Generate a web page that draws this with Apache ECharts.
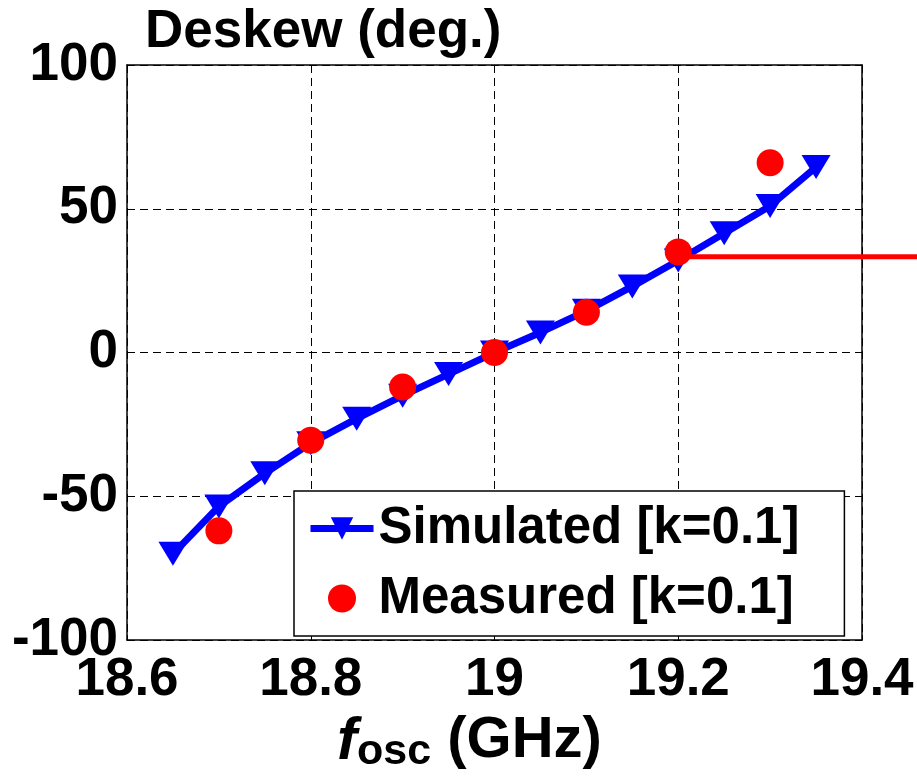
<!DOCTYPE html>
<html>
<head>
<meta charset="utf-8">
<script src="https://cdn.jsdelivr.net/npm/echarts@6/dist/echarts.min.js"></script>
<style>
  html, body { margin: 0; padding: 0; background: #fff; }
  #chart { width: 917px; height: 779px; }
</style>
</head>
<body>
<div id="chart"></div>
<script>
// frequency (GHz) / deskew (deg.)
const simFreq = [18.65, 18.7, 18.75, 18.8, 18.85, 18.9, 18.95, 19.0, 19.05, 19.1, 19.15, 19.2, 19.25, 19.3, 19.35]
const simDeskew = [-70, -53.5, -42, -31.5, -23, -15, -7.5, 0, 7, 14.5, 23, 32, 41.5, 51, 64.5]
const measFreq = [18.7, 18.8, 18.9, 19.0, 19.1, 19.2, 19.3]
const measDeskew = [-62, -30.5, -12, 0, 14, 35, 66]
// stray red trace running off the right edge of the figure
const strayFreq = [19.2, 19.46]
const strayDeskew = [33.8, 33.8]

const FONT = 'Liberation Sans'
const PLOT_LEFT = 127
const PLOT_RIGHT = 55
const X_MIN = 18.6
const X_MAX = 19.4
// second, invisible grid that reaches the right edge of the canvas, same px/GHz
const X_MAX_WIDE = X_MIN + (X_MAX - X_MIN) * (917 - PLOT_LEFT) / (917 - PLOT_LEFT - PLOT_RIGHT)

const pairs = (xs, ys) => xs.map((x, i) => [x, ys[i]])

const boxAxis = {
  axisLine: { show: true, onZero: false, lineStyle: { color: '#000', width: 1.5 } },
  axisTick: { show: true, inside: true, length: 5, lineStyle: { color: '#000', width: 1 } },
  axisLabel: { show: false },
  splitLine: { show: false },
}
const hidden = { show: false }

const option = {
  animation: false,
  backgroundColor: '#fff',
  title: {
    text: 'Deskew (deg.)',
    left: 145,
    top: 6,
    padding: 0,
    textStyle: { fontFamily: FONT, fontWeight: 'bold', fontSize: 53, color: '#000' },
  },
  grid: [
    { left: PLOT_LEFT, right: PLOT_RIGHT, top: 65, bottom: 135 },
    { left: PLOT_LEFT, right: 0, top: 65, bottom: 135 },
  ],
  legend: {
    left: 294,
    top: 491,
    orient: 'vertical',
    itemWidth: 63,
    itemHeight: 28,
    itemGap: 19,
    padding: [12, 45, 12, 13],
    borderColor: '#000',
    borderWidth: 1.5,
    borderRadius: 0,
    backgroundColor: '#fff',
    textStyle: { fontFamily: FONT, fontWeight: 'bold', fontSize: 51, lineHeight: 50, color: '#000' },
    data: [
      { name: 'Simulated [k=0.1]', lineStyle: { width: 7 } },
      { name: 'Measured [k=0.1]' },
    ],
  },
  xAxis: [
    {
      type: 'value',
      gridIndex: 0,
      min: X_MIN,
      max: X_MAX,
      interval: 0.2,
      axisLine: { show: true, onZero: false, lineStyle: { color: '#000', width: 1.5 } },
      axisTick: { show: true, inside: true, length: 5, lineStyle: { color: '#000' } },
      axisLabel: { fontFamily: FONT, fontWeight: 'bold', fontSize: 53, color: '#000', margin: 14 },
      splitLine: { show: true, lineStyle: { color: '#000', width: 1, type: [8, 5] } },
      name: '{f|f}{sub|osc}{n| (GHz)}',
      nameLocation: 'middle',
      nameGap: 68,
      nameTextStyle: {
        padding: [0, 50, 0, 0],
        rich: {
          f: { fontFamily: FONT, fontWeight: 'bold', fontStyle: 'italic', fontSize: 60, lineHeight: 62, verticalAlign: 'top', color: '#000' },
          sub: { fontFamily: FONT, fontWeight: 'bold', fontSize: 43, lineHeight: 42, verticalAlign: 'bottom', padding: [6, 0, 0, 0], color: '#000' },
          n: { fontFamily: FONT, fontWeight: 'bold', fontSize: 58, lineHeight: 62, verticalAlign: 'top', color: '#000' },
        },
      },
    },
    Object.assign({ type: 'value', gridIndex: 0, position: 'top', min: X_MIN, max: X_MAX, interval: 0.2 }, boxAxis),
    { type: 'value', gridIndex: 1, min: X_MIN, max: X_MAX_WIDE, show: false, axisLine: hidden, splitLine: hidden },
  ],
  yAxis: [
    {
      type: 'value',
      gridIndex: 0,
      min: -100,
      max: 100,
      interval: 50,
      axisLine: { show: true, onZero: false, lineStyle: { color: '#000', width: 1.5 } },
      axisTick: { show: true, inside: true, length: 5, lineStyle: { color: '#000' } },
      axisLabel: { fontFamily: FONT, fontWeight: 'bold', fontSize: 53, color: '#000', margin: 9 },
      splitLine: { show: true, lineStyle: { color: '#000', width: 1, type: [8, 5] } },
    },
    Object.assign({ type: 'value', gridIndex: 0, position: 'right', min: -100, max: 100, interval: 50 }, boxAxis),
    { type: 'value', gridIndex: 1, min: -100, max: 100, show: false, axisLine: hidden, splitLine: hidden },
  ],
  series: [
    {
      name: 'Simulated [k=0.1]',
      type: 'line',
      xAxisIndex: 0,
      yAxisIndex: 0,
      data: pairs(simFreq, simDeskew),
      symbol: 'triangle',
      symbolRotate: 180,
      symbolSize: [29, 24],
      showAllSymbol: true,
      itemStyle: { color: '#0000ff' },
      lineStyle: { color: '#0000ff', width: 7 },
      z: 2,
    },
    {
      name: 'stray',
      type: 'line',
      xAxisIndex: 2,
      yAxisIndex: 2,
      data: pairs(strayFreq, strayDeskew),
      symbol: 'none',
      lineStyle: { color: '#ff0000', width: 5 },
      silent: true,
      z: 3,
    },
    {
      name: 'Measured [k=0.1]',
      type: 'scatter',
      xAxisIndex: 0,
      yAxisIndex: 0,
      data: pairs(measFreq, measDeskew),
      symbol: 'circle',
      symbolSize: 27,
      itemStyle: { color: '#ff0000', opacity: 1 },
      z: 4,
    },
  ],
}

const chart = echarts.init(document.getElementById('chart'))
chart.setOption(option)
</script>
</body>
</html>
